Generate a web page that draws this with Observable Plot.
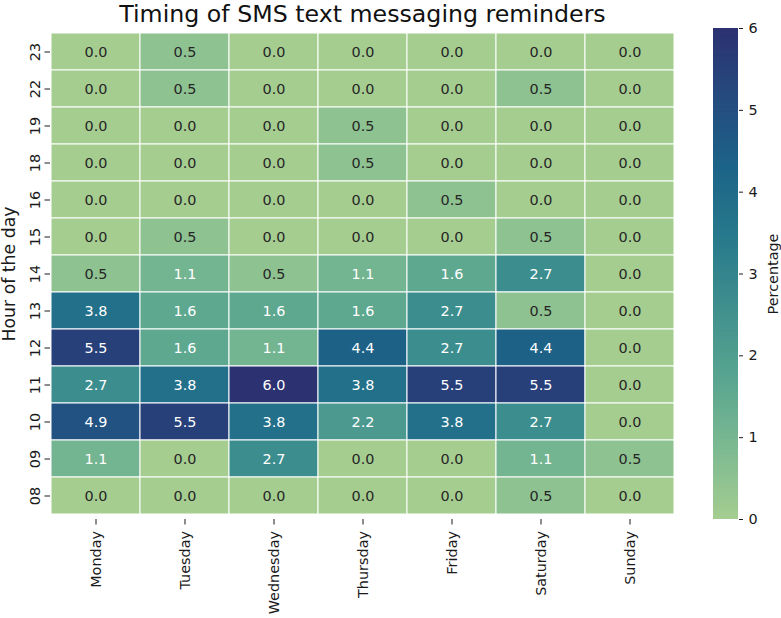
<!DOCTYPE html>
<html>
<head>
<meta charset="utf-8">
<script src="https://cdn.jsdelivr.net/npm/d3@7"></script>
<script src="https://cdn.jsdelivr.net/npm/@observablehq/plot@0.6"></script>
<style>
  html, body { margin: 0; padding: 0; background: #fff; }
  #chart { position: relative; width: 781px; height: 618px; font-family: "DejaVu Sans", sans-serif; }
  #chart > svg { position: absolute; top: 0; }
</style>
</head>
<body>
<div id="chart"></div>
<script>
// Rows (hour of the day), top to bottom, and columns (weekday)
const hours = ["23", "22", "19", "18", "16", "15", "14", "13", "12", "11", "10", "09", "08"];
const days = ["Monday", "Tuesday", "Wednesday", "Thursday", "Friday", "Saturday", "Sunday"];

// Percentage of reminders sent, per weekday, in the order of `hours`
const monday    = [0.0, 0.0, 0.0, 0.0, 0.0, 0.0, 0.5, 3.8, 5.5, 2.7, 4.9, 1.1, 0.0];
const tuesday   = [0.5, 0.5, 0.0, 0.0, 0.0, 0.5, 1.1, 1.6, 1.6, 3.8, 5.5, 0.0, 0.0];
const wednesday = [0.0, 0.0, 0.0, 0.0, 0.0, 0.0, 0.5, 1.6, 1.1, 6.0, 3.8, 2.7, 0.0];
const thursday  = [0.0, 0.0, 0.5, 0.5, 0.0, 0.0, 1.1, 1.6, 4.4, 3.8, 2.2, 0.0, 0.0];
const friday    = [0.0, 0.0, 0.0, 0.0, 0.5, 0.0, 1.6, 2.7, 2.7, 5.5, 3.8, 0.0, 0.0];
const saturday  = [0.0, 0.5, 0.0, 0.0, 0.0, 0.5, 2.7, 0.5, 4.4, 5.5, 2.7, 1.1, 0.5];
const sunday    = [0.0, 0.0, 0.0, 0.0, 0.0, 0.0, 0.0, 0.0, 0.0, 0.0, 0.0, 0.5, 0.0];

const colorTicks = [0, 1, 2, 3, 4, 5, 6];

const series = [monday, tuesday, wednesday, thursday, friday, saturday, sunday];
const table = days.flatMap((day, i) => hours.map((hour, j) => ({day, hour, value: series[i][j]})));

// "crest"-like sequential colormap
const crest = d3.piecewise(d3.interpolateRgb, [
  "#a5cd90", "#7dba91", "#59a590", "#40908e", "#287a8c", "#1c6488", "#254b7f", "#2c3172"
]);
const vmax = 6;
const luminance = (c) => {
  const {r, g, b} = d3.rgb(c);
  const lin = (v) => { v /= 255; return v <= 0.03928 ? v / 12.92 : Math.pow((v + 0.055) / 1.055, 2.4); };
  return 0.2126 * lin(r) + 0.7152 * lin(g) + 0.0722 * lin(b);
};
// light annotation text on dark cells, dark text on light cells
const isDark = (d) => luminance(crest(d.value / vmax)) <= 0.408;

const colorScale = {type: "linear", domain: [0, vmax], interpolate: crest};
const font = {fontFamily: "DejaVu Sans, sans-serif", fontSize: "14.4px", color: "#1a1a1a", background: "#fff", overflow: "visible"};

const main = Plot.plot({
  width: 690,
  height: 618,
  marginLeft: 50,
  marginRight: 16,
  marginTop: 28,
  marginBottom: 99,
  style: font,
  x: {domain: days, padding: 0},
  y: {domain: hours, padding: 0},
  color: colorScale,
  marks: [
    Plot.cell(table, {x: "day", y: "hour", fill: "value", stroke: "white", strokeWidth: 1}),
    Plot.text(table, {filter: (d) => !isDark(d), x: "day", y: "hour", text: (d) => d.value.toFixed(1), fill: "#262626", fontSize: 14.4}),
    Plot.text(table, {filter: isDark, x: "day", y: "hour", text: (d) => d.value.toFixed(1), fill: "white", fontSize: 14.4}),
    Plot.axisX({tickRotate: -90, tickSize: 5.5, tickPadding: 6, label: null, fontSize: 14.4}),
    Plot.axisY({tickRotate: -90, tickSize: 5.5, tickPadding: 5, label: null, fontSize: 14.4}),
    Plot.axisY({tickSize: 0, tickFormat: () => "", label: "Hour of the day", labelAnchor: "center", labelArrow: "none", labelOffset: 48, fontSize: 17.3}),
    Plot.text(["Timing of SMS text messaging reminders"], {frameAnchor: "top", lineAnchor: "bottom", dy: -7, fontSize: 23.7, fill: "#111"})
  ]
});

// Vertical colour bar
const step = vmax / 300;
const stops = d3.range(0, vmax, step);
const bar = Plot.plot({
  width: 91,
  height: 618,
  marginLeft: 23,
  marginRight: 43,
  marginTop: 28,
  marginBottom: 99,
  style: font,
  x: {domain: [0, 1], axis: null},
  y: {domain: [0, vmax]},
  color: colorScale,
  marks: [
    Plot.rect(stops, {x1: 0, x2: 1, y1: (d) => d, y2: (d) => Math.min(vmax, d + step * 1.5), fill: (d) => d + step / 2}),
    Plot.axisY({anchor: "right", ticks: colorTicks, tickFormat: "d", tickSize: 4, tickPadding: 6, label: "Percentage", labelAnchor: "center", labelArrow: "none", labelOffset: 39, fontSize: 14.4})
  ]
});
bar.style.left = "690px";
main.style.left = "0px";

const chart = document.getElementById("chart");
chart.append(main, bar);
</script>
</body>
</html>
